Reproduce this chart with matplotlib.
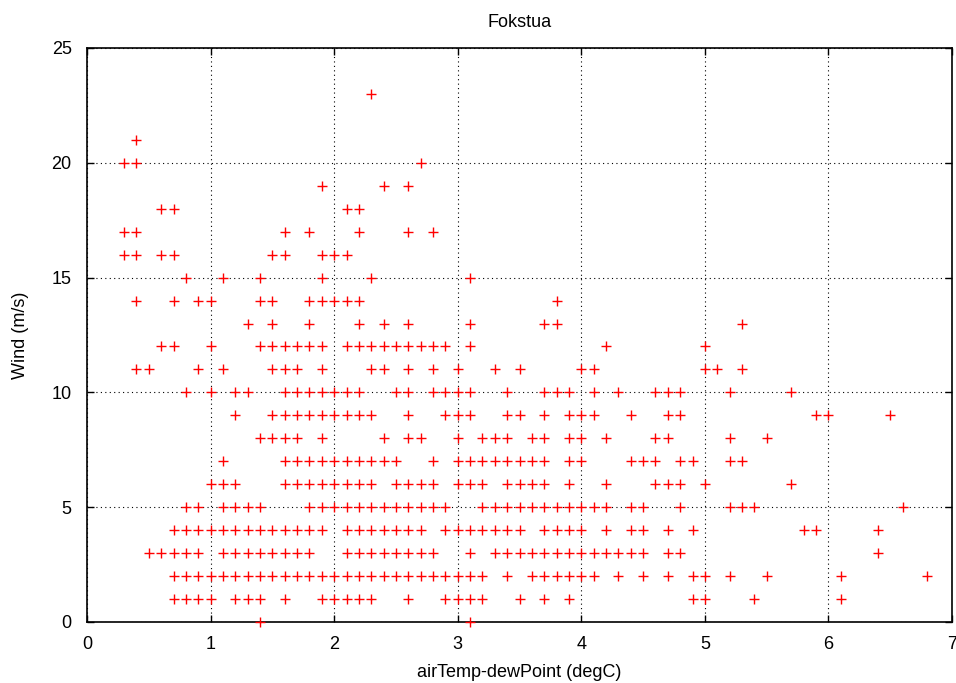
import matplotlib
matplotlib.use("Agg")
import matplotlib.pyplot as plt

plt.rcParams['font.family'] = ['Liberation Sans', 'DejaVu Sans']

# wind speed levels (m/s) and the temperature/dew point spreads seen at each
wind_levels = [0, 1, 2, 3, 4, 5, 6, 7, 8, 9, 10, 11, 12, 13, 14, 15, 16, 17, 18, 19, 20, 21, 23]
spread_rows = [
    [1.4, 3.1],
    [0.7, 0.8, 0.9, 1.0, 1.2, 1.3, 1.4, 1.6, 1.9, 2.0, 2.1, 2.2, 2.3, 2.6, 2.9, 3.0, 3.1, 3.2,
     3.5, 3.7, 3.9, 4.9, 5.0, 5.4, 6.1],
    [0.7, 0.8, 0.9, 1.0, 1.1, 1.2, 1.3, 1.4, 1.5, 1.6, 1.7, 1.8, 1.9, 2.0, 2.1, 2.2, 2.3, 2.4,
     2.5, 2.6, 2.7, 2.8, 2.9, 3.0, 3.1, 3.2, 3.4, 3.6, 3.7, 3.8, 3.9, 4.0, 4.1, 4.3, 4.5, 4.7,
     4.9, 5.0, 5.2, 5.5, 6.1, 6.8],
    [0.5, 0.6, 0.7, 0.8, 0.9, 1.1, 1.2, 1.3, 1.4, 1.5, 1.6, 1.7, 1.8, 2.1, 2.2, 2.3, 2.4, 2.5,
     2.6, 2.7, 2.8, 3.1, 3.3, 3.4, 3.5, 3.6, 3.7, 3.8, 3.9, 4.0, 4.1, 4.2, 4.3, 4.4, 4.5, 4.7,
     4.8, 6.4],
    [0.7, 0.8, 0.9, 1.0, 1.1, 1.2, 1.3, 1.4, 1.5, 1.6, 1.7, 1.8, 1.9, 2.1, 2.2, 2.3, 2.4, 2.5,
     2.6, 2.7, 2.9, 3.0, 3.1, 3.2, 3.3, 3.4, 3.5, 3.7, 3.8, 3.9, 4.0, 4.2, 4.4, 4.5, 4.7, 4.9,
     5.8, 5.9, 6.4],
    [0.8, 0.9, 1.1, 1.2, 1.3, 1.4, 1.8, 1.9, 2.0, 2.1, 2.2, 2.3, 2.4, 2.5, 2.6, 2.7, 2.8, 2.9,
     3.2, 3.3, 3.4, 3.5, 3.6, 3.7, 3.8, 3.9, 4.0, 4.1, 4.2, 4.4, 4.5, 4.8, 5.2, 5.3, 5.4, 6.6],
    [1.0, 1.1, 1.2, 1.6, 1.7, 1.8, 1.9, 2.0, 2.1, 2.2, 2.3, 2.5, 2.6, 2.7, 2.8, 3.0, 3.1, 3.2,
     3.4, 3.5, 3.6, 3.7, 3.9, 4.2, 4.6, 4.7, 4.8, 5.0, 5.7],
    [1.1, 1.6, 1.7, 1.8, 1.9, 2.0, 2.1, 2.2, 2.3, 2.4, 2.5, 2.8, 3.0, 3.1, 3.2, 3.3, 3.4, 3.5,
     3.6, 3.7, 3.9, 4.0, 4.4, 4.5, 4.6, 4.8, 4.9, 5.2, 5.3],
    [1.4, 1.5, 1.6, 1.7, 1.9, 2.4, 2.6, 2.7, 3.0, 3.2, 3.3, 3.4, 3.6, 3.7, 3.9, 4.0, 4.2, 4.6,
     4.7, 5.2, 5.5],
    [1.2, 1.5, 1.6, 1.7, 1.8, 1.9, 2.0, 2.1, 2.2, 2.3, 2.6, 2.9, 3.0, 3.1, 3.4, 3.5, 3.7, 3.9,
     4.0, 4.1, 4.4, 4.7, 4.8, 5.9, 6.0, 6.5],
    [0.8, 1.0, 1.2, 1.3, 1.6, 1.7, 1.8, 1.9, 2.0, 2.1, 2.2, 2.5, 2.6, 2.8, 2.9, 3.0, 3.1, 3.4,
     3.7, 3.8, 3.9, 4.1, 4.3, 4.6, 4.7, 4.8, 5.2, 5.7],
    [0.4, 0.5, 0.9, 1.1, 1.5, 1.6, 1.7, 1.9, 2.3, 2.4, 2.6, 2.8, 3.0, 3.3, 3.5, 4.0, 4.1, 5.0,
     5.1, 5.3],
    [0.6, 0.7, 1.0, 1.4, 1.5, 1.6, 1.7, 1.8, 1.9, 2.1, 2.2, 2.3, 2.4, 2.5, 2.6, 2.7, 2.8, 2.9,
     3.1, 4.2, 5.0],
    [1.3, 1.5, 1.8, 2.2, 2.4, 2.6, 3.1, 3.7, 3.8, 5.3],
    [0.4, 0.7, 0.9, 1.0, 1.4, 1.5, 1.8, 1.9, 2.0, 2.1, 2.2, 3.8],
    [0.8, 1.1, 1.4, 1.9, 2.3, 3.1],
    [0.3, 0.4, 0.6, 0.7, 1.5, 1.6, 1.9, 2.0, 2.1],
    [0.3, 0.4, 1.6, 1.8, 2.2, 2.6, 2.8],
    [0.6, 0.7, 2.1, 2.2],
    [1.9, 2.4, 2.6],
    [0.3, 0.4, 2.7],
    [0.4],
    [2.3],
]

spread = []
wind = []
for level, row in zip(wind_levels, spread_rows):
    for s in row:
        spread.append(s)
        wind.append(level)

fig = plt.figure(figsize=(9.56, 6.83), dpi=100)
ax = fig.add_axes([87/956, 1-622/683, (952-87)/956, (622-48)/683])

ax.plot(spread, wind, linestyle='none', marker='+', color='red',
        markersize=7.5, markeredgewidth=1.0, clip_on=False, zorder=3)

ax.set_xlim(0, 7)
ax.set_ylim(0, 25)
ax.set_xticks(range(0, 8))
ax.set_yticks(range(0, 26, 5))
ax.grid(True, color='black', linestyle=(0, (1, 3)), linewidth=0.8)
ax.tick_params(direction='in', length=5, width=1, top=True, right=True,
               labelsize=13, colors='black')
ax.tick_params(axis='x', pad=10)
ax.tick_params(axis='y', pad=11)
for sp in ax.spines.values():
    sp.set_linewidth(1.2)

ax.set_xlabel('airTemp-dewPoint (degC)', fontsize=13, labelpad=8)
ax.set_ylabel('Wind (m/s)', fontsize=13, labelpad=16)
ax.set_title('Fokstua', fontsize=13, pad=15)

fig.savefig('out.png', dpi=100)
